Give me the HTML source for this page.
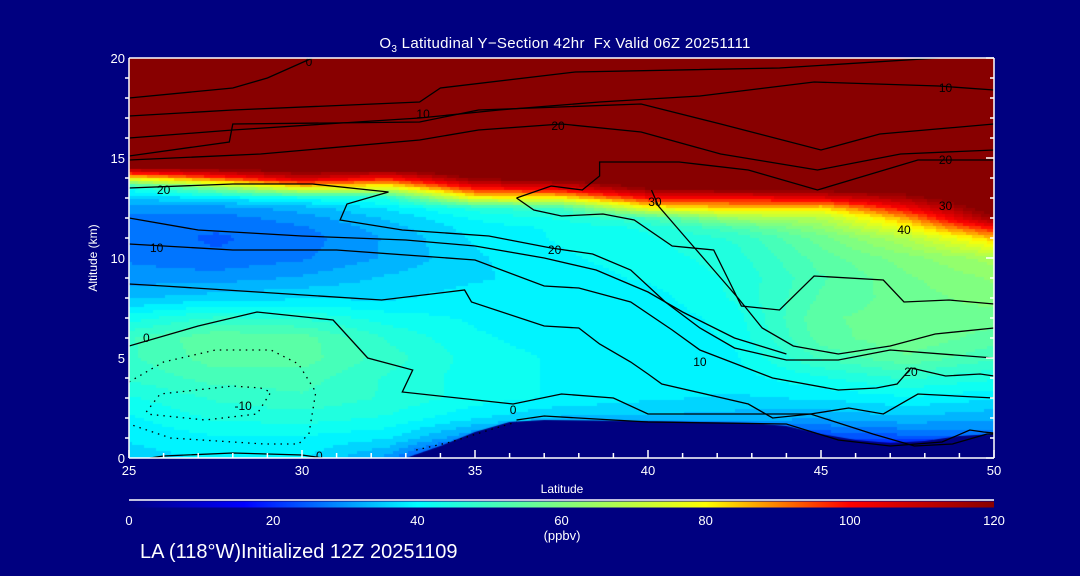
<!DOCTYPE html>
<html><head><meta charset="utf-8"><style>
html,body{margin:0;padding:0;background:#000080;width:1080px;height:576px;overflow:hidden}
#root{position:relative;width:1080px;height:576px;background:#000080;font-family:"Liberation Sans",sans-serif;color:#fff}
.t{position:absolute;white-space:nowrap;color:#fff}
canvas{position:absolute;left:129px;top:58px}
svg{position:absolute;left:0;top:0}
</style></head><body>
<div id="root">
<div class="t" style="left:0;width:1130px;text-align:center;top:35px;font-size:15px;letter-spacing:0.3px">O<sub style="font-size:10px">3</sub> Latitudinal Y−Section 42hr&nbsp; Fx Valid 06Z 20251111</div>
<canvas id="field" width="865" height="400"></canvas>
<svg id="ov" width="1080" height="576"></svg>
<div class="t" style="left:93px;top:258px;font-size:12px;transform:translate(-50%,-50%) rotate(-90deg)">Altitude (km)</div>
<div class="t" style="left:562px;top:482px;font-size:12px;transform:translateX(-50%)">Latitude</div>
<div class="t" style="left:562px;top:528px;font-size:13px;transform:translateX(-50%)">(ppbv)</div>
<div class="t" style="left:140px;top:541px;font-size:20px">LA (118°W)Initialized 12Z 20251109</div>
</div>
<script>
const lats=[25,27.5,30,32.5,35,37.5,40,42.5,45,47.5,50];
const alts=[0,1,2,3,4,5,6,7,8,9,10,11,11.5,12,12.5,13,13.5,14,14.5,15,20];
const ozone=[
[36,38,38,30,10,8,8,8,8,8,8],
[38,40,40,38,28,20,20,20,22,24,26],
[40,44,45,43,38,34,34,33,32,34,32],
[43,47,49,46,42,40,38,37,38,40,38],
[47,51,51,46,42,40,39,39,43,47,44],
[49,54,54,48,42,40,39,40,50,55,50],
[49,55,54,46,41,39,38,41,54,58,54],
[42,47,46,42,40,38,38,42,55,57,57],
[34,36,37,37,39,38,39,44,53,57,60],
[30,30,32,35,37,39,41,44,52,58,62],
[28,26,28,32,37,40,42,45,54,60,66],
[27,25,27,32,38,41,43,47,57,68,85],
[27,26,28,33,39,41,44,52,62,78,100],
[28,27,30,35,41,44,50,65,68,88,118],
[30,30,33,38,45,50,78,85,82,102,125],
[35,38,42,45,78,80,100,100,105,115,130],
[42,60,78,75,100,105,120,125,125,125,130],
[80,95,110,100,120,125,130,130,130,130,130],
[118,122,125,125,130,130,130,130,130,130,130],
[130,130,130,130,130,130,130,130,130,130,130],
[130,130,130,130,130,130,130,130,130,130,130]];
const terrainLat=[33,34,35,36,37,40,43,44,45,46,47,48,49,50];
const terrainAlt=[0,0.6,1.3,1.8,1.9,1.85,1.75,1.6,1.2,0.9,0.75,0.85,1.1,1.2];
const xTicks=[25,30,35,40,45,50];
const yTicks=[0,5,10,15,20];
const cbTicks=[0,20,40,60,80,100,120];
const contours=[
{d:0,p:[[25,18],[28,18.5],[29,19],[30.3,20]]},
{d:0,p:[[25,17.1],[28,17.4],[33.4,17.8],[34,18.5],[37.9,19.3],[43.8,19.5],[48.4,20]]},
{d:0,p:[[25,16],[28,16.4],[33.4,17],[35.7,17.4],[38.6,17.8],[41.5,18.1],[44.8,18.8],[48.4,18.6],[50,18.4]]},
{d:0,p:[[25,15.1],[27.9,15.8],[28,16.7],[33.4,16.8],[35.1,17.4],[39.8,17.7],[42.1,16.7],[45,15.4],[46.7,16.2],[50,16.7]]},
{d:0,p:[[25,14.9],[28.8,15.2],[33.4,15.9],[35.1,16.4],[37.5,16.7],[39.8,16.3],[42.1,15.2],[44.9,14.4],[47.3,15.2],[50,15.4]]},
{d:0,p:[[36.2,13],[37.2,13.6],[38.1,13.4],[38.6,14.1],[38.6,14.8],[40.9,14.8],[42.9,14.4],[44.9,13.4],[47.8,14.9],[50,14.9]]},
{d:0,p:[[36.2,13],[36.7,12.4],[37.5,12.1],[38.7,12.2],[39.6,11.9],[40.7,10.6],[41.9,10.4],[42.3,9],[42.7,7.6],[43.8,7.4],[44.8,9.1],[46.8,8.9],[47.4,7.8],[48.7,7.9],[50,7.7]]},
{d:0,p:[[40.1,13.4],[40.3,12.6],[41.2,10.8],[41.8,9.6],[42.6,8],[43.3,6.5],[44.2,5.6],[45.5,5.2],[47,5.6],[48.3,6.2],[50,6.5]]},
{d:0,p:[[25,13.5],[28,13.7],[30.3,13.7],[32.5,13.3],[31.3,12.7],[31.1,11.9],[32.9,11.4],[35.4,11.1],[37.2,10.5],[38.4,10.2],[39.5,9.4],[40.5,7.8],[41.5,6.5],[42.5,5.5],[44,4.9],[45.5,4.9],[47,5.4],[50,5.0]]},
{d:0,p:[[25,12.0],[27,11.4],[30,11.1],[33,10.9],[35,10.6],[37,10.0],[38.5,9.4],[40,8.3],[41,7.3],[42.5,6.0],[44,5.2]]},
{d:0,p:[[25,10.7],[28,10.4],[31,10.4],[35,9.9],[37,8.6],[38,8.5],[39.5,7.8],[40.7,6.4],[41.5,5.4],[43.6,4.0],[45.5,3.4],[46.6,3.5],[47.2,3.7],[47.6,4.5],[48.6,4.1],[49.6,4.2],[50,4.1]]},
{d:0,p:[[25,8.7],[26,8.6],[32.3,7.9],[34.7,8.4],[34.9,7.8],[37,6.6],[38,6.5],[38.6,5.7],[39.5,4.8],[40,4.2],[40.4,3.7],[42.9,2.7],[43.6,2.0],[44.7,2.2],[46.5,1.2],[47.7,0.6],[48.8,0.7],[49.8,1.2],[50,1.2]]},
{d:0,p:[[25,5.6],[27,6.6],[28.7,7.3],[30.9,6.9],[31.9,5.0],[33.2,4.4],[32.9,3.3],[36.1,2.7],[37.5,3.2],[39,3.0],[40,2.2],[44.7,2.2],[45.8,2.5],[46.8,2.2],[47.8,3.2],[50,3.0]]},
{d:0,p:[[36.2,1.9],[37,2.1],[40,1.8],[44,1.7],[45.5,0.9],[47,0.6],[48.5,0.8],[49.3,1.4],[49.7,1.3],[50,1.25]]},
{d:0,p:[[25.6,0],[26,0.1],[28,0.25],[30,0.15],[30.6,0]]},
{d:1,p:[[25.5,2.3],[25.9,3.2],[28,3.6],[28.8,3.5],[29.1,3.3],[28.7,2.2],[27.2,1.9],[25.5,2.2]]},
{d:1,p:[[25,3.8],[26,4.8],[27.5,5.4],[29.1,5.4],[29.9,4.7],[30.4,3.3],[30.2,1.2],[29.9,0.7],[28.9,0.7],[26.2,1.0],[25,1.7]]},
{d:1,p:[[33.3,0.4],[34.3,0.8],[35.6,1.5],[36.2,1.8]]}];
const labels=[["0",30.2,19.8],["10",33.5,17.2],["10",48.6,18.5],["20",37.4,16.6],["20",48.6,14.9],["30",48.6,12.6],["40",47.4,11.4],["30",40.2,12.8],["20",26,13.4],["10",25.8,10.5],["20",37.3,10.4],["0",25.5,6.0],["-10",28.3,2.6],["10",41.5,4.8],["20",47.6,4.3],["0",36.1,2.4],["0",30.5,0.1]];

const X0=129,X1=994,Y0=58,Y1=458;
const xs=v=>X0+(v-25)/(50-25)*(X1-X0);
const ys=v=>Y1-(v-0)/20*(Y1-Y0);
const stops=[[0,[0,0,128]],[16,[0,0,255]],[40,[0,255,255]],[60,[128,255,128]],[80,[255,255,0]],[100,[255,0,0]],[120,[136,0,0]]];
function cmap(v){v=Math.max(0,Math.min(120,v));for(let i=0;i<stops.length-1;i++){const a=stops[i],b=stops[i+1];if(v<=b[0]){const t=(v-a[0])/(b[0]-a[0]);return a[1].map((c,k)=>Math.round(c+(b[1][k]-c)*t));}}return stops[6][1];}
function seg(arr,v){for(let i=0;i<arr.length-1;i++)if(v<=arr[i+1])return i;return arr.length-2;}
function field(la,al){const i=seg(lats,la),j=seg(alts,al);const tx=(la-lats[i])/(lats[i+1]-lats[i]),ty=(al-alts[j])/(alts[j+1]-alts[j]);
const a=ozone[j][i],b=ozone[j][i+1],c=ozone[j+1][i],d=ozone[j+1][i+1];return (a*(1-tx)+b*tx)*(1-ty)+(c*(1-tx)+d*tx)*ty;}
const cv=document.getElementById('field'),ctx=cv.getContext('2d');
const S=3;
for(let py=0;py<400;py+=S){for(let px=0;px<865;px+=S){
const la=25+(px+S/2)/865*25,al=20-(py+S/2)/400*20;
let v=Math.round(field(la,al)/3)*3;const c=cmap(v);
ctx.fillStyle=`rgb(${c[0]},${c[1]},${c[2]})`;ctx.fillRect(px,py,S,S);}}
ctx.fillStyle='#000080';ctx.beginPath();ctx.moveTo(xs(terrainLat[0])-X0,400);
for(let k=0;k<terrainLat.length;k++)ctx.lineTo(xs(terrainLat[k])-X0,ys(terrainAlt[k])-Y0);
ctx.lineTo(865,400);ctx.closePath();ctx.fill();

const NS='http://www.w3.org/2000/svg',svg=document.getElementById('ov');
function mk(t,at,par){const e=document.createElementNS(NS,t);for(const k in at)e.setAttribute(k,at[k]);(par||svg).appendChild(e);return e;}
const defs=mk('defs',{});const cp=mk('clipPath',{id:'pc'},defs);mk('rect',{x:X0,y:Y0,width:X1-X0,height:Y1-Y0},cp);
const cg=mk('g',{'clip-path':'url(#pc)'});


contours.forEach((c,ci)=>{const pl=mk('polyline',{points:c.p.map(q=>xs(q[0]).toFixed(1)+','+ys(q[1]).toFixed(1)).join(' '),fill:'none',stroke:'#000','stroke-width':1.3,'stroke-dasharray':c.d?'1.5 5':'none'},cg);

});
labels.forEach(l=>{const t=mk('text',{x:xs(l[1]),y:ys(l[2])+4,'text-anchor':'middle','font-size':12,fill:'#000','font-family':'Liberation Sans, sans-serif'},cg);t.textContent=l[0];

});
const ax=mk('g',{stroke:'#fff','stroke-width':1.5,fill:'none'});


mk('line',{x1:X0,y1:Y0,x2:X1,y2:Y0},ax);mk('line',{x1:X0,y1:Y1,x2:X1,y2:Y1},ax);
mk('line',{x1:X0,y1:Y0,x2:X0,y2:Y1},ax);mk('line',{x1:X1,y1:Y0,x2:X1,y2:Y1},ax);
for(let v=25;v<=50;v++){const big=v%5===0;mk('line',{x1:xs(v),y1:Y1,x2:xs(v),y2:Y1-(big?8:5)},ax);}
for(let v=0;v<=20;v++){const big=v%5===0;mk('line',{x1:X0,y1:ys(v),x2:X0-(big?0:4),y2:ys(v)},ax);mk('line',{x1:X1,y1:ys(v),x2:X1-(big?8:4),y2:ys(v)},ax);}
xTicks.forEach(v=>{const t=mk('text',{x:xs(v),y:Y1+17,'text-anchor':'middle','font-size':13,fill:'#fff','font-family':'Liberation Sans, sans-serif'});t.textContent=v;

});
yTicks.forEach(v=>{const t=mk('text',{x:X0-4,y:ys(v)+5,'text-anchor':'end','font-size':13,fill:'#fff','font-family':'Liberation Sans, sans-serif'});t.textContent=v;

});
const gr=mk('linearGradient',{id:'cb',x1:0,x2:1,y1:0,y2:0},defs);
stops.forEach(s=>mk('stop',{offset:(s[0]/120),'stop-color':`rgb(${s[1].join(',')})`},gr));
mk('line',{x1:X0,y1:500,x2:X1,y2:500,stroke:'#fff','stroke-width':1.5});
const cb=mk('rect',{x:X0,y:501.5,width:X1-X0,height:6,fill:'url(#cb)'});


cbTicks.forEach(v=>{const t=mk('text',{x:X0+v/120*(X1-X0),y:525,'text-anchor':'middle','font-size':13,fill:'#fff','font-family':'Liberation Sans, sans-serif'});t.textContent=v;

});
</script>
</body></html>
